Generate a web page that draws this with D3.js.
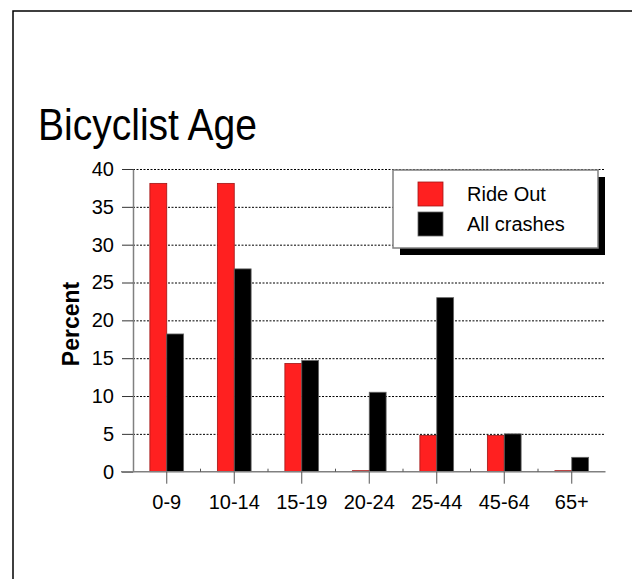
<!DOCTYPE html>
<html>
<head>
<meta charset="utf-8">
<script src="https://cdn.jsdelivr.net/npm/d3@7"></script>
<style>
  body { margin: 0; background: #fff; }
  svg { display: block; font-family: "Liberation Sans", Arial, sans-serif; }
</style>
</head>
<body>
<div id="chart"></div>
<script>
// Data
const ageGroups = ["0-9", "10-14", "15-19", "20-24", "25-44", "45-64", "65+"];
const seriesNames = ["Ride Out", "All crashes"];
const rideOut = [38.1, 38.1, 14.3, 0, 4.8, 4.8, 0];
const allCrashes = [18.2, 26.8, 14.7, 10.5, 23.0, 5.0, 1.9];
const yTicks = [0, 5, 10, 15, 20, 25, 30, 35, 40];

const width = 632, height = 579;
const colors = ["#ff2020", "#000000"];
const strokes = ["#a01515", "#666666"];

const svg = d3.select("#chart")
    .append("svg")
    .attr("width", width)
    .attr("height", height);

// Slide frame (left and top edges)
svg.append("path")
    .attr("d", "M13,579V11H632")
    .attr("fill", "none")
    .attr("stroke", "#000")
    .attr("stroke-width", 1.5);

// Title
svg.append("text")
    .attr("x", 38)
    .attr("y", 140)
    .attr("font-size", 45)
    .attr("textLength", 219)
    .attr("lengthAdjust", "spacingAndGlyphs")
    .attr("fill", "#000")
    .text("Bicyclist Age");

// Scales
const x0 = d3.scaleBand()
    .domain(ageGroups)
    .range([133, 605.5])
    .padding(0);

const x1 = d3.scaleBand()
    .domain(seriesNames)
    .range([x0.bandwidth() / 4, x0.bandwidth() * 3 / 4]);

const y = d3.scaleLinear()
    .domain([0, 40])
    .range([471.7, 169]);

// Dotted gridlines
svg.append("g")
    .selectAll("line")
    .data(yTicks.filter(t => t > 0))
    .join("line")
    .attr("x1", 133)
    .attr("x2", 604)
    .attr("y1", d => y(d) + 0.5)
    .attr("y2", d => y(d) + 0.5)
    .attr("stroke", "#000")
    .attr("stroke-width", 1)
    .attr("stroke-dasharray", "2,1.5");

// Bars
const series = [rideOut, allCrashes];
const groups = svg.append("g")
    .selectAll("g")
    .data(ageGroups)
    .join("g")
    .attr("transform", d => `translate(${x0(d)},0)`);

groups.selectAll("rect")
    .data((d, i) => seriesNames.map((s, k) => ({ s, k, v: series[k][i] })))
    .join("rect")
    .attr("x", d => x1(d.s))
    .attr("y", d => y(d.v) - (d.v === 0 ? 1 : 0))
    .attr("width", x1.bandwidth())
    .attr("height", d => Math.max(1, y(0) - y(d.v)))
    .attr("fill", d => colors[d.k])
    .attr("stroke", d => strokes[d.k])
    .attr("stroke-width", 0.8);

// Y axis
const yAxis = svg.append("g")
    .attr("transform", "translate(133,0)")
    .call(d3.axisLeft(y)
        .tickValues(yTicks)
        .tickSize(11)
        .tickSizeOuter(0)
        .tickPadding(8));
yAxis.select(".domain").attr("stroke", "#808080").attr("stroke-width", 1.5);
yAxis.selectAll(".tick line").attr("stroke", "#333");
yAxis.selectAll("text")
    .attr("font-size", 20)
    .attr("font-family", "Liberation Sans, Arial, sans-serif")
    .attr("fill", "#000");

// X axis
const xAxis = svg.append("g")
    .attr("transform", `translate(0,${y(0)})`)
    .call(d3.axisBottom(x0)
        .tickSize(12)
        .tickSizeOuter(0)
        .tickPadding(11));
xAxis.select(".domain")
    .attr("d", `M121,0H605.5`)
    .attr("stroke", "#808080")
    .attr("stroke-width", 1.5);
xAxis.selectAll(".tick line").attr("stroke", "#555");
xAxis.selectAll("text")
    .attr("font-size", 20)
    .attr("font-family", "Liberation Sans, Arial, sans-serif")
    .attr("fill", "#000");

// Small upward ticks at group boundaries
xAxis.append("g")
    .selectAll("line")
    .data(ageGroups.slice(1))
    .join("line")
    .attr("x1", d => x0(d))
    .attr("x2", d => x0(d))
    .attr("y1", 0)
    .attr("y2", -3)
    .attr("stroke", "#555");

// Y axis title
svg.append("text")
    .attr("transform", "translate(79,324) rotate(-90)")
    .attr("text-anchor", "middle")
    .attr("font-size", 23)
    .attr("font-weight", "bold")
    .attr("fill", "#000")
    .text("Percent");

// Legend with drop shadow
const legend = svg.append("g");
legend.append("rect")
    .attr("x", 400).attr("y", 177)
    .attr("width", 205).attr("height", 78)
    .attr("fill", "#000");
legend.append("rect")
    .attr("x", 393).attr("y", 170)
    .attr("width", 205).attr("height", 78)
    .attr("fill", "#fff")
    .attr("stroke", "#808080")
    .attr("stroke-width", 1.5);

const items = legend.selectAll("g.item")
    .data(seriesNames)
    .join("g")
    .attr("class", "item")
    .attr("transform", (d, i) => `translate(0,${i * 30})`);

items.append("rect")
    .attr("x", 418)
    .attr("y", 182)
    .attr("width", 25)
    .attr("height", 24)
    .attr("fill", (d, i) => colors[i])
    .attr("stroke", (d, i) => strokes[i])
    .attr("stroke-width", 0.8);

items.append("text")
    .attr("x", 467)
    .attr("y", 201)
    .attr("font-size", 20)
    .attr("fill", "#000")
    .text(d => d);
</script>
</body>
</html>
